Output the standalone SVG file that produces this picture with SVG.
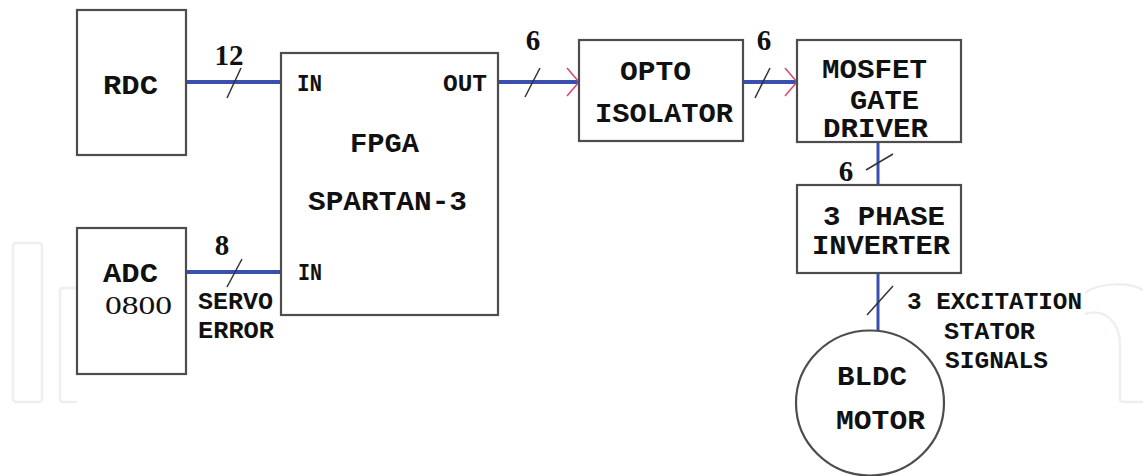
<svg xmlns="http://www.w3.org/2000/svg" width="1143" height="476" viewBox="0 0 1143 476">
<style>
.box{fill:#fff;stroke:#4d4d4d;stroke-width:2.2}
.wm{fill:none;stroke:#eef0f0;stroke-width:2.5}
.t{font-family:"Liberation Mono",monospace;font-weight:bold;font-size:27px;fill:#111}
.r{font-family:"Liberation Serif",serif;font-size:25px;fill:#111}
.s{font-family:"Liberation Mono",monospace;font-weight:bold;font-size:23px;fill:#111}
.n{font-family:"Liberation Serif",serif;font-weight:bold;font-size:29px;fill:#111;text-anchor:middle}
.bus{stroke:#3b4fb0;stroke-width:4;fill:none}
.vbus{stroke:#3b4fb0;stroke-width:3;fill:none}
.sl{stroke:#333;stroke-width:1.5;fill:none}
</style>
<defs>
<marker id="chev" markerWidth="14" markerHeight="30" refX="13" refY="15" orient="auto" markerUnits="userSpaceOnUse">
<path d="M1,1 L13,15 L1,29" fill="none" stroke="#d9487a" stroke-width="1.6"/>
</marker>
</defs>
<rect width="1143" height="476" fill="#fff"/>
<g id="watermark">
<rect class="wm" x="13" y="243" width="29" height="159" rx="3"/>
<path class="wm" d="M77,288 L63,288 Q60,288 60,291 L60,399 Q60,402 63,402 L77,402"/>
<path class="wm" d="M1085,293 C1098,283 1128,281 1143,290"/>
<path class="wm" d="M1085,314 C1105,308 1120,322 1120,345 L1120,399 Q1120,402 1124,402 L1143,402"/>
</g>
<g id="connectors">
<line class="bus" x1="186" y1="82" x2="281" y2="82"/>
<line class="sl" x1="227" y1="98" x2="241" y2="68"/>
<line class="bus" x1="186" y1="272" x2="281" y2="272"/>
<line class="sl" x1="227" y1="287" x2="242" y2="259"/>
<line class="bus" x1="498" y1="82" x2="579" y2="82" marker-end="url(#chev)"/>
<line class="sl" x1="525" y1="97" x2="540" y2="68"/>
<line class="bus" x1="743" y1="82" x2="797" y2="82" marker-end="url(#chev)"/>
<line class="sl" x1="755" y1="98" x2="770" y2="68"/>
<line class="vbus" x1="878" y1="142" x2="878" y2="185"/>
<line class="sl" x1="866" y1="170" x2="893" y2="154"/>
<line class="vbus" x1="878" y1="273" x2="878" y2="330"/>
<line class="sl" x1="867" y1="315" x2="893" y2="286"/>
<text class="n" x="229" y="65" font-weight="normal">12</text>
<text class="n" x="222" y="255">8</text>
<text class="n" x="533" y="50">6</text>
<text class="n" x="764" y="50">6</text>
<text class="n" x="846" y="181">6</text>
<text class="s" x="198" y="309" textLength="75" lengthAdjust="spacingAndGlyphs">SERVO</text>
<text class="s" x="198" y="338" textLength="76" lengthAdjust="spacingAndGlyphs">ERROR</text>
<text class="s" x="907" y="309" textLength="175" lengthAdjust="spacingAndGlyphs">3 EXCITATION</text>
<text class="s" x="944" y="339" textLength="91" lengthAdjust="spacingAndGlyphs">STATOR</text>
<text class="s" x="945" y="368" textLength="103" lengthAdjust="spacingAndGlyphs">SIGNALS</text>
</g>
<g id="rdc">
<rect class="box" x="77" y="10" width="109" height="145"/>
<text class="t" x="103" y="94" textLength="55" lengthAdjust="spacingAndGlyphs">RDC</text>
</g>
<g id="adc">
<rect class="box" x="77" y="228" width="109" height="146"/>
<text class="t" x="103" y="282" font-size="25" textLength="55" lengthAdjust="spacingAndGlyphs">ADC</text>
<text class="r" x="105" y="314" textLength="67" lengthAdjust="spacingAndGlyphs">0800</text>
</g>
<g id="fpga">
<rect class="box" x="281" y="53" width="217" height="262"/>
<text class="s" x="297" y="91" textLength="25" lengthAdjust="spacingAndGlyphs">IN</text>
<text class="s" x="443" y="91" textLength="44" lengthAdjust="spacingAndGlyphs">OUT</text>
<text class="t" x="350" y="152" textLength="69" lengthAdjust="spacingAndGlyphs">FPGA</text>
<text class="t" x="308" y="210" textLength="159" lengthAdjust="spacingAndGlyphs">SPARTAN-3</text>
<text class="s" x="298" y="280" textLength="24" lengthAdjust="spacingAndGlyphs">IN</text>
</g>
<g id="opto">
<rect class="box" x="579" y="40" width="164" height="101"/>
<text class="t" x="620" y="80" textLength="71" lengthAdjust="spacingAndGlyphs">OPTO</text>
<text class="t" x="595" y="122" textLength="138" lengthAdjust="spacingAndGlyphs">ISOLATOR</text>
</g>
<g id="mosfet">
<rect class="box" x="797" y="40" width="164" height="102"/>
<text class="t" x="822" y="78" textLength="105" lengthAdjust="spacingAndGlyphs">MOSFET</text>
<text class="t" x="850" y="109" textLength="69" lengthAdjust="spacingAndGlyphs">GATE</text>
<text class="t" x="823" y="137" textLength="105" lengthAdjust="spacingAndGlyphs">DRIVER</text>
</g>
<g id="inverter">
<rect class="box" x="797" y="185" width="164" height="88"/>
<text class="t" x="823" y="225" textLength="122" lengthAdjust="spacingAndGlyphs">3 PHASE</text>
<text class="t" x="812" y="254" textLength="138" lengthAdjust="spacingAndGlyphs">INVERTER</text>
</g>
<g id="motor">
<ellipse class="box" cx="870" cy="403" rx="74" ry="72.5" stroke-width="1.8"/>
<text class="t" x="837" y="385" textLength="70" lengthAdjust="spacingAndGlyphs">BLDC</text>
<text class="t" x="836" y="429" textLength="89" lengthAdjust="spacingAndGlyphs">MOTOR</text>
</g>
</svg>
